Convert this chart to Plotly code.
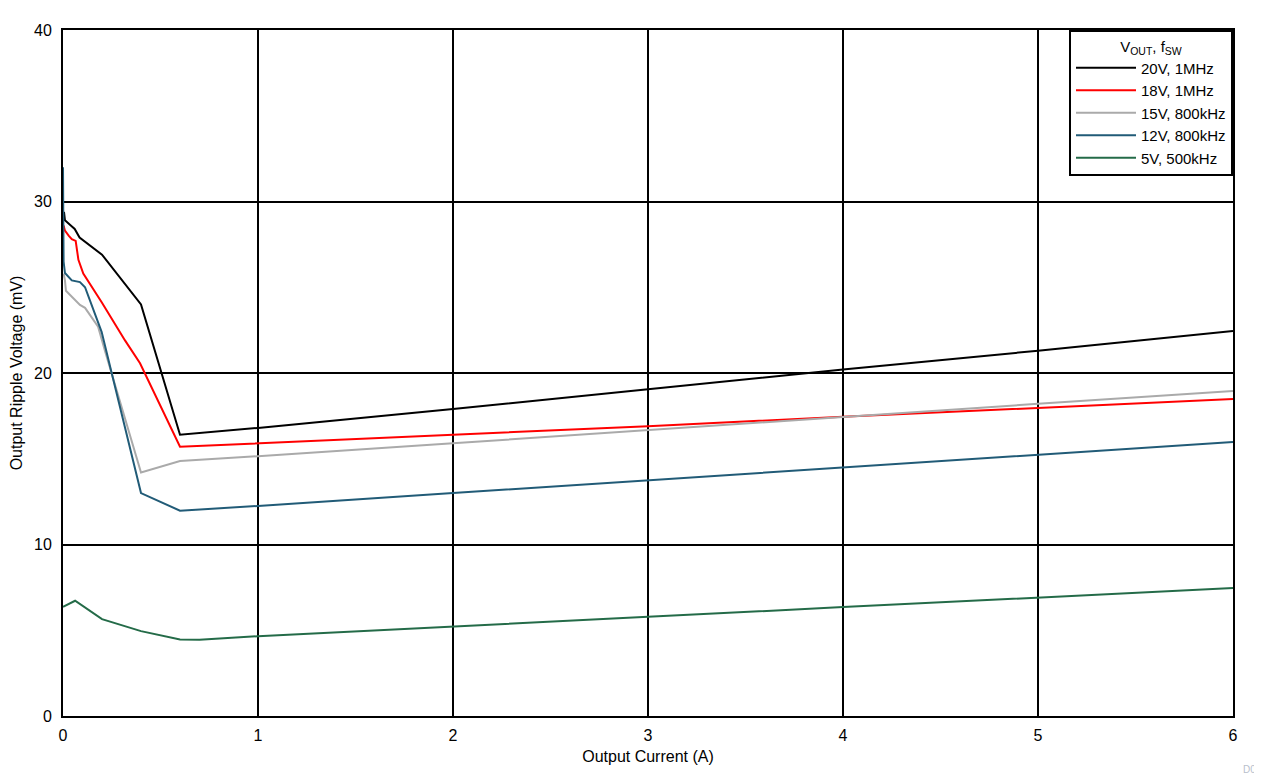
import plotly.graph_objects as go

# Data (Output Current A, Output Ripple mV)
x_20v = [0.005, 0.01, 0.04, 0.06, 0.085, 0.2, 0.4, 0.6, 1, 2, 3, 4, 5, 6]
y_20v = [29.4, 28.9, 28.6, 28.4, 27.9, 26.9, 24.0, 16.4, 16.8, 17.9, 19.05, 20.2, 21.3, 22.45]

x_18v = [0.003, 0.01, 0.03, 0.045, 0.065, 0.079, 0.104, 0.2, 0.318, 0.395, 0.6, 1, 2, 3, 4, 5, 6]
y_18v = [28.6, 28.3, 28.0, 27.8, 27.7, 26.6, 25.8, 24.1, 21.9, 20.57, 15.7, 15.9, 16.4, 16.9, 17.45, 17.95, 18.48]

x_15v = [0.003, 0.01, 0.015, 0.045, 0.087, 0.113, 0.18, 0.215, 0.4, 0.6, 1, 2, 3, 4, 5, 6]
y_15v = [25.8, 25.4, 24.8, 24.45, 23.97, 23.8, 22.7, 21.3, 14.2, 14.87, 15.15, 15.9, 16.65, 17.44, 18.2, 18.95]

x_12v = [0.0, 0.003, 0.01, 0.045, 0.087, 0.113, 0.198, 0.4, 0.6, 1, 2, 3, 4, 5, 6]
y_12v = [32.0, 26.5, 25.83, 25.4, 25.3, 25.0, 22.4, 13.0, 11.97, 12.25, 13.0, 13.75, 14.5, 15.25, 15.98]

x_5v = [0.0, 0.062, 0.2, 0.4, 0.6, 0.7, 1, 2, 3, 4, 5, 6]
y_5v = [6.37, 6.72, 5.65, 4.95, 4.46, 4.45, 4.65, 5.2, 5.78, 6.35, 6.9, 7.46]

names = ["20V, 1MHz", "18V, 1MHz", "15V, 800kHz", "12V, 800kHz", "5V, 500kHz"]
colors = ["#000000", "#FF0000", "#AAAAAA", "#215B77", "#246B48"]
series = [(x_20v, y_20v), (x_18v, y_18v), (x_15v, y_15v), (x_12v, y_12v), (x_5v, y_5v)]

x_ticks = [0, 1, 2, 3, 4, 5, 6]
y_ticks = [0, 10, 20, 30, 40]

fig = go.Figure()
for (xs, ys), n, c in zip(series, names, colors):
    fig.add_trace(go.Scatter(x=xs, y=ys, mode="lines", name=n,
                             line=dict(color=c, width=2)))

axis_common = dict(showgrid=True, gridcolor="#000000", gridwidth=2,
                   showline=True, linecolor="#000000", linewidth=2, mirror=True,
                   zeroline=False, ticks="", automargin=False,
                   tickfont=dict(family="Arial", size=16, color="#000000"))

fig.update_layout(
    width=1262, height=776,
    margin=dict(l=55, r=37, t=22, b=68),
    paper_bgcolor="white", plot_bgcolor="white",
    font=dict(family="Arial", size=16, color="#000000"),
    xaxis=dict(range=[0, 6], tickvals=x_ticks, ticklabelstandoff=4,
               title=dict(text="Output Current (A)", font=dict(size=16), standoff=8),
               **axis_common),
    yaxis=dict(range=[0, 40], tickvals=y_ticks, ticklabelstandoff=6,
               title=dict(text="Output Ripple Voltage (mV)", font=dict(size=16), standoff=14),
               **axis_common),
    legend=dict(x=1, y=1, xanchor="right", yanchor="top",
                bgcolor="white", bordercolor="#000000", borderwidth=2,
                font=dict(family="Arial", size=15, color="#000000"),
                title=dict(text="V<sub>OUT</sub>, f<sub>SW</sub>", side="top center",
                           font=dict(family="Arial", size=15)),
                itemwidth=60, tracegroupgap=0),
    showlegend=True,
)

fig.add_annotation(text="D0", xref="paper", yref="paper", x=1.021, y=-0.0787,
                   showarrow=False, font=dict(family="Arial", size=10, color="#B8C0CC"),
                   xanchor="right", yanchor="middle")

fig.write_html("out.html")
